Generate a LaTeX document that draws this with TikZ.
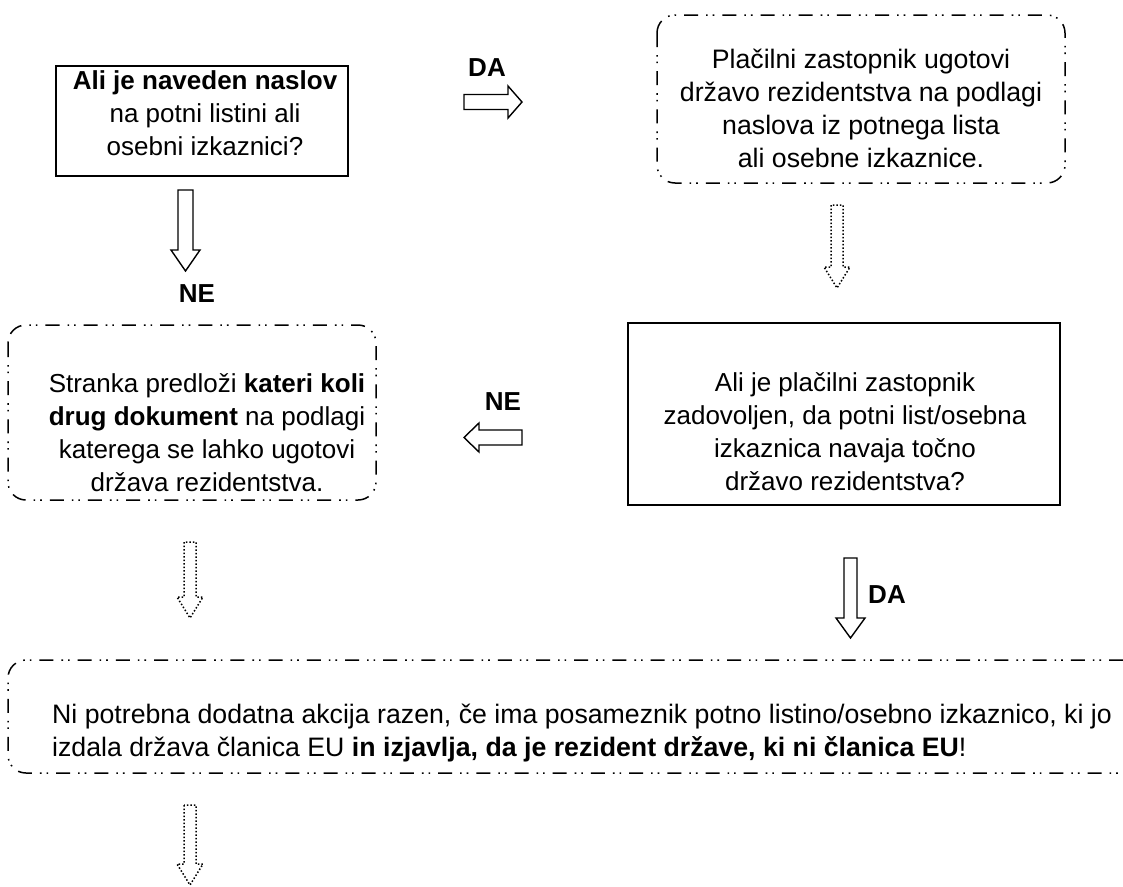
\documentclass[tikz,border=0pt]{standalone}
\usepackage{fontspec}
\setmainfont{Liberation Sans}
\begin{document}
\begin{tikzpicture}[x=1pt,y=-1pt]
\tikzset{
  ddd/.style={draw, line width=1.5pt, dash pattern=on 14pt off 8pt on 1.6pt off 5pt on 1.6pt off 8pt, rounded corners=18pt},
  solidbox/.style={draw, line width=1.3pt},
  txt/.style={align=center, font=\fontsize{26}{33}\selectfont, inner sep=0pt},
  bigtxt/.style={align=center, font=\fontsize{26.7}{33}\selectfont, inner sep=0pt},
  lbl/.style={font=\fontsize{26}{30}\selectfont\bfseries, inner sep=0pt},
  barr/.style={draw, line width=1.4pt, line join=miter},
  darr/.style={draw, line width=1.5pt, dotted},
}
% block arrow: #1 style, #2 tail, #3 canvas angle, #4 length, #5 head length, #6 shaft half width, #7 head half width
\newcommand\blockarr[7]{%
  \draw[#1, shift={#2}, rotate=#3] (0pt,-#6pt) -- ({#4-#5},-#6pt) -- ({#4-#5},-#7pt) -- (#4,0pt) -- ({#4-#5},#7pt) -- ({#4-#5},#6pt) -- (0pt,#6pt) -- cycle;}
\useasboundingbox (0,0) rectangle (1123,886);

% box 1
\draw[solidbox] (56,66) rectangle (348,176);
\node[txt] (q1) at (205,113) {\textbf{Ali je naveden naslov}\\ na potni listini ali\\ osebni izkaznici?};

% box 2
\draw[ddd] (657,15) rectangle (1065,183);
\node[bigtxt] (b2) at (861,108) {Plačilni zastopnik ugotovi\\ državo rezidentstva na podlagi\\ naslova iz potnega lista\\ ali osebne izkaznice.};

% box 3
\draw[ddd] (8,325) rectangle (376,500);
\node[txt] (b3) at (207,433) {Stranka predloži \textbf{kateri koli}\\ \textbf{drug dokument} na podlagi\\ katerega se lahko ugotovi\\ država rezidentstva.};

% box 5
\draw[solidbox] (628,323) rectangle (1060,505);
\node[txt] (q2) at (845,432) {Ali je plačilni zastopnik\\ zadovoljen, da potni list/osebna\\ izkaznica navaja točno\\ državo rezidentstva?};

% box 4
\draw[ddd] (1123,660) -- (8,660) -- (8,773) -- (1123,773);
\node[bigtxt, align=left, anchor=west] (b4) at (52,733) {Ni potrebna dodatna akcija razen, če ima posameznik potno listino/osebno izkaznico, ki jo\\ izdala država članica EU \textbf{in izjavlja, da je rezident države, ki ni članica EU}!};

% arrows
\coordinate (a1) at (464,102);
\blockarr{barr}{(a1)}{0}{58}{14}{7.5}{16}
\node[lbl] (da1) at (487,68) {DA};

\coordinate (a2) at (185.5,190);
\blockarr{barr}{(a2)}{-90}{81}{21}{7.5}{14.5}
\node[lbl] (ne1) at (197,294) {NE};

\coordinate (a3) at (837,205);
\blockarr{darr}{(a3)}{-90}{83}{21}{6}{13}

\coordinate (a4) at (522,437.5);
\blockarr{barr}{(a4)}{180}{58}{15}{7.5}{14.5}
\node[lbl] (ne2) at (503,402) {NE};

\coordinate (a5) at (850.5,558);
\blockarr{barr}{(a5)}{-90}{80}{20}{6.5}{14.5}
\node[lbl] (da2) at (887,595) {DA};

\coordinate (a6) at (190,542);
\blockarr{darr}{(a6)}{-90}{76}{21}{6}{13}

\coordinate (a7) at (190,805);
\blockarr{darr}{(a7)}{-90}{80}{21}{6}{13}
\end{tikzpicture}
\end{document}
